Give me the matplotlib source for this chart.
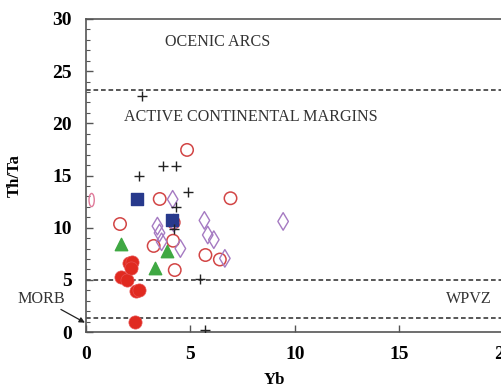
import matplotlib
matplotlib.use("Agg")
import matplotlib.pyplot as plt
from matplotlib.path import Path
from matplotlib.transforms import Affine2D

# Th/Ta vs Yb discrimination diagram
filled_x = [1.68, 1.95, 2.05, 2.2, 2.15, 2.4, 2.55, 2.35]
filled_y = [5.3, 5.0, 6.6, 6.75, 6.1, 3.9, 4.05, 1.0]

tri_x = [1.67, 3.32, 3.88]
tri_y = [8.4, 6.1, 7.8]

sq_x = [2.44, 4.12]
sq_y = [12.75, 10.7]

plus_x = [2.68, 2.55, 3.69, 4.31, 4.89, 4.3, 4.22, 5.48, 5.69]
plus_y = [22.6, 15.0, 15.95, 15.95, 13.45, 12.0, 9.9, 5.05, 0.2]

circ_x = [4.84, 3.53, 6.92, 1.63, 3.24, 4.17, 4.25, 5.72, 6.41, 4.2]
circ_y = [17.45, 12.75, 12.82, 10.35, 8.25, 8.75, 5.94, 7.38, 6.95, 10.5]

# narrow mark sitting on the left axis
edge_x = [0.27]
edge_y = [12.65]

dia_x = [4.15, 3.42, 3.52, 3.62, 4.52, 5.67, 5.83, 6.12, 6.65, 9.44, 4.2]
dia_y = [12.72, 10.15, 9.5, 8.65, 8.0, 10.7, 9.3, 8.85, 7.06, 10.6, 10.45]

boundaries = [23.2, 5.0, 1.3]

plt.rcParams['font.family'] = ['Liberation Serif', 'DejaVu Serif']

fig = plt.figure(figsize=(5.02, 3.87), dpi=100)
ax = fig.add_axes([0.1713, 0.142, 0.832, 0.809])

for b in boundaries:
    ax.axhline(b, color='#3a3a3a', lw=1.2, ls=(0, (2.8, 1.7)), zorder=1)

ellipse = Path.unit_circle().transformed(Affine2D().scale(0.4, 1.0))

ax.scatter(circ_x, circ_y, s=80, facecolors='none', edgecolors='#d24545', linewidths=1.1, zorder=3)
ax.scatter(edge_x, edge_y, s=90, marker=ellipse, facecolors='none', edgecolors='#e07a9a',
           linewidths=1.0, zorder=3)
ax.scatter(dia_x, dia_y, s=80, marker='d', facecolors='none', edgecolors='#a57ac2', linewidths=1.0, zorder=3)
ax.scatter(filled_x, filled_y, s=90, color='#e02a20', edgecolors='#e85050', linewidths=0.5, zorder=4)
ax.scatter(tri_x, tri_y, s=80, marker='^', color='#3fa843', zorder=4)
ax.scatter(sq_x, sq_y, s=80, marker='s', color='#27398c', zorder=4)
ax.scatter(plus_x, plus_y, s=60, marker='+', color='#222222', linewidths=1.0, zorder=5)

ax.set_xlim(0, 20)
ax.set_ylim(0, 30)
ax.set_xticks([0, 5, 10, 15, 20])
ax.set_yticks([0, 5, 10, 15, 20, 25, 30])
ax.set_yticks(range(0, 31), minor=True)
ax.tick_params(axis='both', which='major', direction='in', length=5, width=1, color='#555555',
               labelsize=14, pad=10)
ax.tick_params(axis='y', which='minor', direction='in', length=3, width=0.8, color='#555555')
for lab in ax.get_xticklabels() + ax.get_yticklabels():
    lab.set_fontweight('bold')
for s in ax.spines.values():
    s.set_color('#555555')
    s.set_linewidth(1.2)

ax.text(3.8, 27.8, 'OCENIC ARCS', fontsize=11.6, color='#333333', va='center')
ax.text(1.8, 20.6, 'ACTIVE CONTINENTAL MARGINS', fontsize=11.6, color='#333333', va='center')
ax.text(17.25, 3.15, 'WPVZ', fontsize=11.6, color='#333333', va='center')
ax.annotate('MORB', xy=(-0.05, 0.9), xytext=(-1.0, 3.2), fontsize=11.6, color='#333333',
            ha='right', va='center', annotation_clip=False,
            arrowprops=dict(arrowstyle='-|>', color='#222222', lw=0.9, mutation_scale=8,
                            shrinkA=0, shrinkB=0))

ax.set_ylabel('Th/Ta', fontsize=12, fontweight='bold', va='center')
ax.yaxis.set_label_coords(-0.17, 0.5)
ax.set_xlabel('Yb', fontsize=12, fontweight='bold', va='center')
ax.xaxis.set_label_coords(0.452, -0.153)

fig.savefig('out.png', dpi=100)
